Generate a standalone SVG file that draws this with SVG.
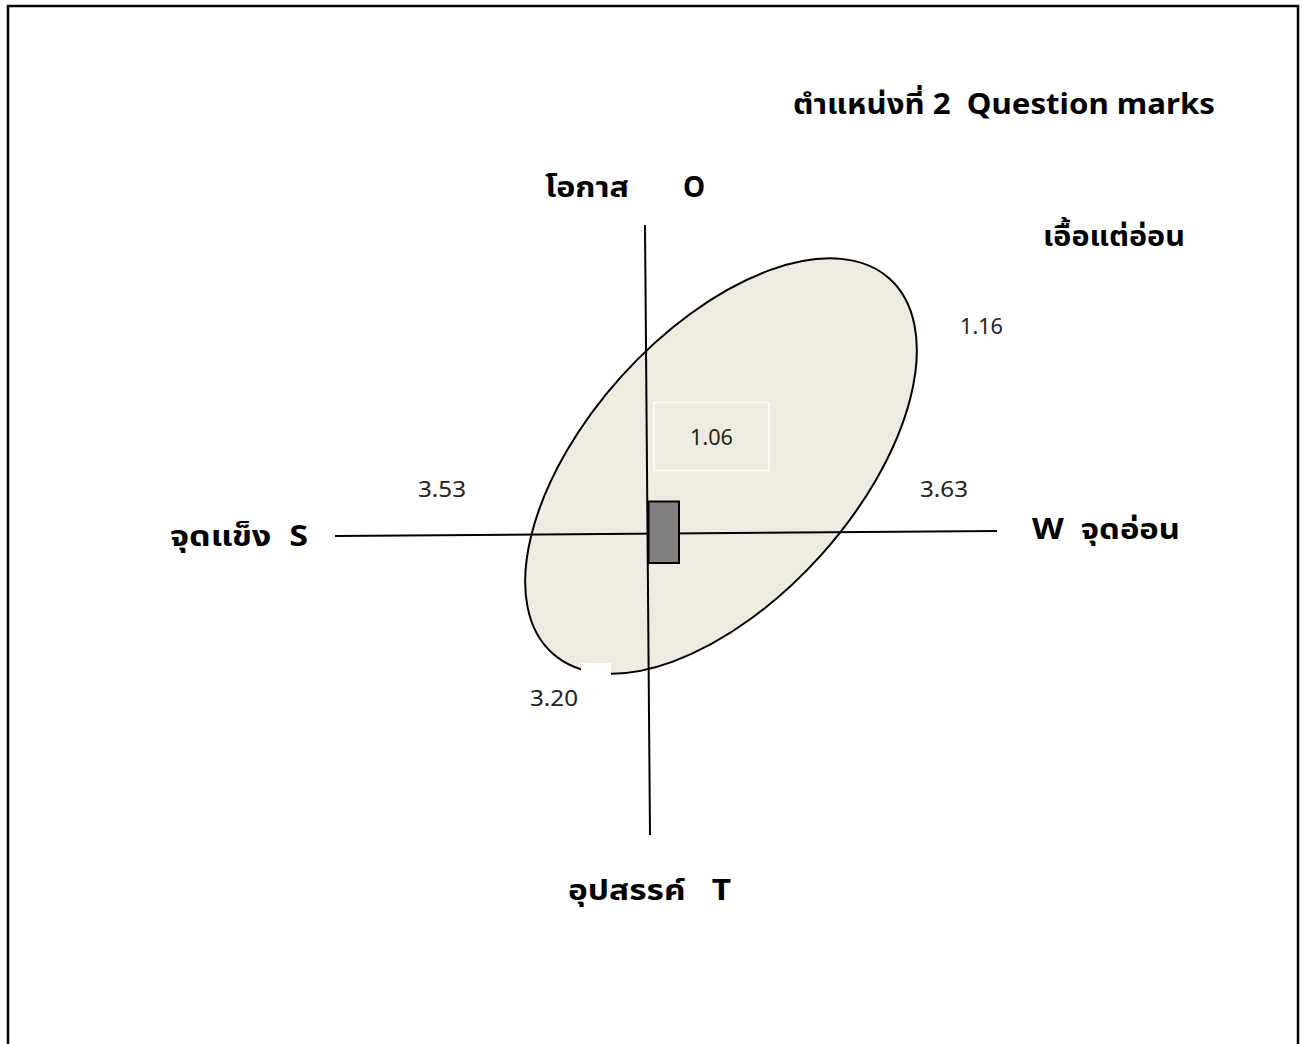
<svg xmlns="http://www.w3.org/2000/svg" width="1303" height="1044" viewBox="0 0 1303 1044">
<style>
.b{font-family:"Noto Sans","Noto Sans Thai","Liberation Sans",sans-serif;font-weight:bold;font-size:28px;fill:#000}
.n{font-family:"Noto Sans","Noto Sans Thai","Liberation Sans",sans-serif;font-size:21px;fill:#222}
.ax{stroke:#000;stroke-width:2;fill:none}
</style>
<rect x="0" y="0" width="1303" height="1044" fill="#fff"/>
<rect x="8" y="6" width="1290" height="1050" fill="none" stroke="#000" stroke-width="2.5"/>
<g id="ellipse">
<ellipse cx="721" cy="466" rx="252" ry="134" transform="rotate(-48 721 466)" fill="#EEECE1" stroke="#000" stroke-width="2"/>
<rect x="581" y="663" width="30" height="12" fill="#fff"/>
</g>
<g id="connectors">
<line class="ax" x1="645" y1="225" x2="650" y2="835"/>
<line class="ax" x1="335" y1="536" x2="997" y2="531"/>
</g>
<g id="box106">
<rect x="654" y="402.5" width="115" height="68" fill="#EEECE1" stroke="#fff" stroke-width="1.5"/>
<text class="n" x="690" y="445" textLength="43" lengthAdjust="spacingAndGlyphs">1.06</text>
</g>
<g id="marker">
<rect x="648.5" y="501.5" width="30.5" height="61.5" fill="#808080" stroke="#000" stroke-width="2"/>
</g>
<g id="labels">
<text class="b" x="793" y="114" xml:space="preserve" textLength="422" lengthAdjust="spacingAndGlyphs">ตำแหน่งที่ 2  Question marks</text>
<text class="b" x="545" y="197" textLength="84" lengthAdjust="spacingAndGlyphs">โอกาส</text>
<text class="b" x="683" y="197">O</text>
<text class="b" x="1043" y="246" textLength="142" lengthAdjust="spacingAndGlyphs">เอื้อแต่อ่อน</text>
<text class="n" x="960" y="334" textLength="43" lengthAdjust="spacingAndGlyphs">1.16</text>
<text class="n" x="418" y="497" textLength="48" lengthAdjust="spacingAndGlyphs">3.53</text>
<text class="n" x="920" y="497" textLength="48" lengthAdjust="spacingAndGlyphs">3.63</text>
<text class="b" x="170" y="546" xml:space="preserve" textLength="138" lengthAdjust="spacingAndGlyphs">จุดแข็ง  S</text>
<text class="b" x="1032" y="539" xml:space="preserve" textLength="148" lengthAdjust="spacingAndGlyphs">W  จุดอ่อน</text>
<text class="n" x="530" y="706" textLength="48" lengthAdjust="spacingAndGlyphs">3.20</text>
<text class="b" x="568" y="900" xml:space="preserve" textLength="163" lengthAdjust="spacingAndGlyphs">อุปสรรค์   T</text>
</g>
</svg>
